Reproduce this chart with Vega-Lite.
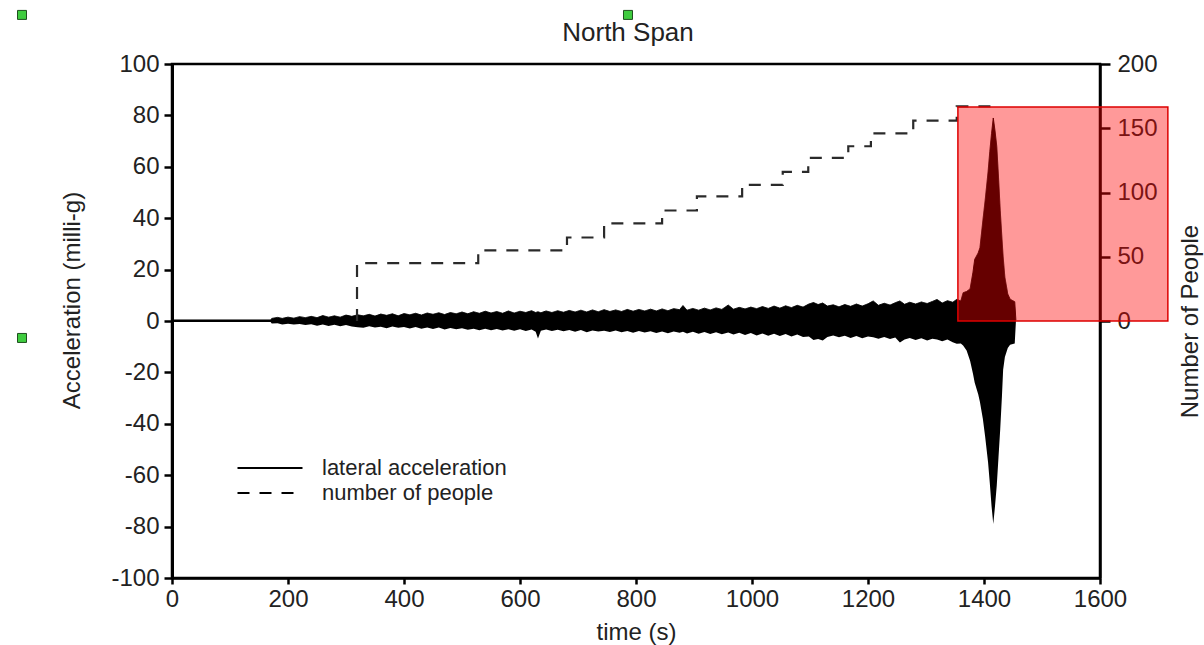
{
  "$schema": "https://vega.github.io/schema/vega-lite/v6.json",
  "width": 928,
  "height": 514,
  "autosize": {"type": "none"},
  "padding": {"left": 172, "top": 64, "right": 104, "bottom": 67},
  "background": "white",
  "title": {"text": "North Span", "fontSize": 26, "font": "Liberation Sans", "fontWeight": "normal", "color": "#222", "offset": 0, "dy": 38, "dx": -8},
  "config": {
    "font": "Liberation Sans",
    "view": {"stroke": "black", "strokeWidth": 2.5},
    "axis": {"grid": false, "labelFlush": false, "labelFontSize": 24, "titleFontSize": 24, "titleFontWeight": "normal", "labelColor": "#222", "titleColor": "#222", "domainColor": "black", "tickColor": "black", "domainWidth": 2.5, "tickWidth": 2.5, "labelExpr": "'' + datum.value"}
  },
  "datasets": {
    "acc": [
      {"t": 0, "up": 0.4, "lo": -0.4},
      {"t": 170, "up": 0.4, "lo": -0.4},
      {"t": 172, "up": 1.0, "lo": -1.0},
      {"t": 182, "up": 1.4, "lo": -0.9},
      {"t": 190, "up": 1.0, "lo": -1.4},
      {"t": 200, "up": 1.5, "lo": -1.1},
      {"t": 210, "up": 1.1, "lo": -1.4},
      {"t": 220, "up": 1.7, "lo": -1.2},
      {"t": 230, "up": 1.3, "lo": -1.6},
      {"t": 240, "up": 1.8, "lo": -1.3},
      {"t": 250, "up": 1.3, "lo": -1.8},
      {"t": 260, "up": 2.1, "lo": -1.4},
      {"t": 270, "up": 1.5, "lo": -1.9},
      {"t": 280, "up": 2.0, "lo": -1.5},
      {"t": 290, "up": 1.5, "lo": -2.0},
      {"t": 300, "up": 2.3, "lo": -1.6},
      {"t": 310, "up": 1.8, "lo": -2.1},
      {"t": 320, "up": 2.4, "lo": -2.4},
      {"t": 330, "up": 2.0, "lo": -2.6},
      {"t": 340, "up": 2.6, "lo": -2.0},
      {"t": 350, "up": 1.9, "lo": -2.5},
      {"t": 360, "up": 2.7, "lo": -2.2},
      {"t": 370, "up": 2.2, "lo": -2.8},
      {"t": 380, "up": 2.8, "lo": -2.1},
      {"t": 390, "up": 2.0, "lo": -2.6},
      {"t": 400, "up": 2.9, "lo": -2.3},
      {"t": 410, "up": 2.4, "lo": -2.9},
      {"t": 420, "up": 3.0, "lo": -2.3},
      {"t": 430, "up": 2.3, "lo": -3.0},
      {"t": 440, "up": 3.1, "lo": -2.5},
      {"t": 450, "up": 2.6, "lo": -3.1},
      {"t": 460, "up": 3.2, "lo": -2.5},
      {"t": 470, "up": 2.5, "lo": -3.3},
      {"t": 480, "up": 3.3, "lo": -2.7},
      {"t": 490, "up": 2.8, "lo": -3.2},
      {"t": 500, "up": 3.5, "lo": -2.8},
      {"t": 510, "up": 2.8, "lo": -3.4},
      {"t": 520, "up": 3.6, "lo": -3.0},
      {"t": 530, "up": 3.0, "lo": -3.6},
      {"t": 540, "up": 3.8, "lo": -3.0},
      {"t": 550, "up": 3.1, "lo": -3.6},
      {"t": 560, "up": 3.7, "lo": -3.1},
      {"t": 570, "up": 3.0, "lo": -3.7},
      {"t": 580, "up": 3.9, "lo": -3.2},
      {"t": 590, "up": 3.1, "lo": -3.8},
      {"t": 600, "up": 3.8, "lo": -3.2},
      {"t": 610, "up": 3.3, "lo": -3.9},
      {"t": 620, "up": 4.0, "lo": -3.3},
      {"t": 627, "up": 3.3, "lo": -4.2},
      {"t": 631, "up": 3.6, "lo": -6.8},
      {"t": 636, "up": 3.2, "lo": -3.8},
      {"t": 645, "up": 3.9, "lo": -3.3},
      {"t": 655, "up": 3.3, "lo": -3.9},
      {"t": 665, "up": 4.0, "lo": -3.4},
      {"t": 675, "up": 3.4, "lo": -4.0},
      {"t": 685, "up": 4.1, "lo": -3.5},
      {"t": 695, "up": 3.5, "lo": -4.2},
      {"t": 705, "up": 4.2, "lo": -3.5},
      {"t": 715, "up": 3.5, "lo": -4.4},
      {"t": 725, "up": 4.3, "lo": -3.7},
      {"t": 735, "up": 3.6, "lo": -4.1},
      {"t": 745, "up": 4.4, "lo": -3.8},
      {"t": 755, "up": 3.7, "lo": -4.3},
      {"t": 765, "up": 4.3, "lo": -3.7},
      {"t": 775, "up": 3.7, "lo": -4.4},
      {"t": 785, "up": 4.5, "lo": -3.9},
      {"t": 795, "up": 3.8, "lo": -4.6},
      {"t": 805, "up": 4.5, "lo": -3.9},
      {"t": 815, "up": 3.9, "lo": -4.5},
      {"t": 825, "up": 4.6, "lo": -4.0},
      {"t": 835, "up": 3.9, "lo": -4.7},
      {"t": 845, "up": 4.7, "lo": -4.1},
      {"t": 855, "up": 4.0, "lo": -4.8},
      {"t": 865, "up": 4.8, "lo": -4.1},
      {"t": 875, "up": 4.4, "lo": -4.6},
      {"t": 881, "up": 6.0, "lo": -4.2},
      {"t": 888, "up": 4.2, "lo": -4.9},
      {"t": 898, "up": 4.9, "lo": -4.2},
      {"t": 908, "up": 4.2, "lo": -5.0},
      {"t": 918, "up": 5.0, "lo": -4.3},
      {"t": 928, "up": 4.3, "lo": -5.1},
      {"t": 938, "up": 5.1, "lo": -4.4},
      {"t": 948, "up": 4.5, "lo": -5.2},
      {"t": 959, "up": 6.2, "lo": -4.5},
      {"t": 968, "up": 4.6, "lo": -5.3},
      {"t": 978, "up": 5.3, "lo": -4.6},
      {"t": 988, "up": 4.7, "lo": -5.4},
      {"t": 998, "up": 5.4, "lo": -4.7},
      {"t": 1008, "up": 4.8, "lo": -5.6},
      {"t": 1018, "up": 5.6, "lo": -4.9},
      {"t": 1028, "up": 4.9, "lo": -5.7},
      {"t": 1038, "up": 5.8, "lo": -5.0},
      {"t": 1048, "up": 5.0, "lo": -5.8},
      {"t": 1058, "up": 5.9, "lo": -5.1},
      {"t": 1068, "up": 5.2, "lo": -6.0},
      {"t": 1078, "up": 6.1, "lo": -5.3},
      {"t": 1088, "up": 5.4, "lo": -6.2},
      {"t": 1098, "up": 6.6, "lo": -6.0},
      {"t": 1106, "up": 7.2, "lo": -7.4},
      {"t": 1114, "up": 6.4, "lo": -7.0},
      {"t": 1122, "up": 7.0, "lo": -7.6},
      {"t": 1130, "up": 5.8, "lo": -6.2},
      {"t": 1140, "up": 6.3, "lo": -5.6},
      {"t": 1150, "up": 5.5, "lo": -6.3},
      {"t": 1160, "up": 6.4, "lo": -5.7},
      {"t": 1170, "up": 5.7, "lo": -6.6},
      {"t": 1180, "up": 6.6, "lo": -5.8},
      {"t": 1190, "up": 5.8, "lo": -6.7},
      {"t": 1200, "up": 6.7, "lo": -6.0},
      {"t": 1209, "up": 7.8, "lo": -6.3},
      {"t": 1218, "up": 6.1, "lo": -6.9},
      {"t": 1228, "up": 6.9, "lo": -6.2},
      {"t": 1238, "up": 6.2, "lo": -7.0},
      {"t": 1247, "up": 7.1, "lo": -6.4},
      {"t": 1255, "up": 7.8, "lo": -8.4},
      {"t": 1263, "up": 6.5, "lo": -7.2},
      {"t": 1272, "up": 7.3, "lo": -6.6},
      {"t": 1282, "up": 6.6, "lo": -7.4},
      {"t": 1292, "up": 7.4, "lo": -6.7},
      {"t": 1302, "up": 6.8, "lo": -7.6},
      {"t": 1311, "up": 7.6, "lo": -6.9},
      {"t": 1319, "up": 8.4, "lo": -7.2},
      {"t": 1328, "up": 7.0, "lo": -7.9},
      {"t": 1337, "up": 7.9, "lo": -7.2},
      {"t": 1346, "up": 7.3, "lo": -8.3},
      {"t": 1353, "up": 8.4, "lo": -8.9},
      {"t": 1360, "up": 7.8, "lo": -8.8},
      {"t": 1364, "up": 11, "lo": -9.5},
      {"t": 1370, "up": 11.5, "lo": -11.5},
      {"t": 1376, "up": 12.5, "lo": -15.5},
      {"t": 1381, "up": 19, "lo": -20.5},
      {"t": 1384, "up": 24, "lo": -24},
      {"t": 1390, "up": 26.5, "lo": -28.5},
      {"t": 1393, "up": 28.5, "lo": -31.5},
      {"t": 1398, "up": 39, "lo": -38},
      {"t": 1402, "up": 47, "lo": -45},
      {"t": 1407, "up": 58, "lo": -55},
      {"t": 1410, "up": 66, "lo": -63},
      {"t": 1413, "up": 73, "lo": -72},
      {"t": 1416, "up": 79, "lo": -79},
      {"t": 1419, "up": 74, "lo": -72},
      {"t": 1422, "up": 68, "lo": -64},
      {"t": 1425, "up": 56, "lo": -53},
      {"t": 1428, "up": 43, "lo": -42},
      {"t": 1431, "up": 32, "lo": -29},
      {"t": 1433, "up": 25, "lo": -19},
      {"t": 1436, "up": 17, "lo": -14},
      {"t": 1441, "up": 10.5, "lo": -10.5},
      {"t": 1445, "up": 8.5, "lo": -9.2},
      {"t": 1453, "up": 7.5, "lo": -8.8},
      {"t": 1455, "up": 0.3, "lo": -0.3}
    ],
    "people": [
      {"t": 319, "n": 0},
      {"t": 319, "n": 45},
      {"t": 528, "n": 55},
      {"t": 681, "n": 65},
      {"t": 745, "n": 76},
      {"t": 845, "n": 86},
      {"t": 905, "n": 97},
      {"t": 983, "n": 106},
      {"t": 1053, "n": 116},
      {"t": 1097, "n": 127},
      {"t": 1166, "n": 136},
      {"t": 1205, "n": 146},
      {"t": 1278, "n": 156},
      {"t": 1353, "n": 167},
      {"t": 1420, "n": 167}
    ],
    "handles": [
      {"t": -258.6, "a": 119.1},
      {"t": 786.2, "a": 119.1},
      {"t": -258.6, "a": -6.6}
    ],
    "box": [
      {"x0": 1355, "x1": 1717, "n0": 0, "n1": 166.5}
    ]
  },
  "layer": [
    {
      "layer": [
        {
          "data": {"name": "acc"},
          "mark": {"type": "area", "color": "black"},
          "encoding": {
            "x": {"field": "t", "type": "quantitative", "scale": {"domain": [0, 1600], "nice": false, "zero": false}, "axis": {"title": "time (s)", "values": [0, 200, 400, 600, 800, 1000, 1200, 1400, 1600], "tickSize": 6, "labelPadding": 3, "titlePadding": 9}},
            "y": {"field": "up", "type": "quantitative", "scale": {"domain": [-100, 100], "nice": false, "zero": false}, "axis": {"title": "Acceleration (milli-g)", "values": [-100, -80, -60, -40, -20, 0, 20, 40, 60, 80, 100], "tickSize": 8, "labelPadding": 5, "domainWidth": 3, "titleAngle": 270, "titleX": -93, "titleY": 236, "titleAlign": "center", "titleBaseline": "alphabetic"}},
            "y2": {"field": "lo"}
          }
        },
        {
          "data": {"name": "acc"},
          "mark": {"type": "line", "color": "black", "strokeWidth": 1},
          "encoding": {
            "x": {"field": "t", "type": "quantitative", "scale": {"domain": [0, 1600], "nice": false, "zero": false}, "axis": {"title": "time (s)", "values": [0, 200, 400, 600, 800, 1000, 1200, 1400, 1600], "tickSize": 6, "labelPadding": 3, "titlePadding": 9}},
            "y": {"field": "up", "type": "quantitative", "scale": {"domain": [-100, 100], "nice": false, "zero": false}, "axis": {"title": "Acceleration (milli-g)", "values": [-100, -80, -60, -40, -20, 0, 20, 40, 60, 80, 100], "tickSize": 8, "labelPadding": 5, "domainWidth": 3, "titleAngle": 270, "titleX": -93, "titleY": 236, "titleAlign": "center", "titleBaseline": "alphabetic"}},
            "strokeDash": {"datum": "lateral acceleration", "scale": {"domain": ["lateral acceleration", "number of people"], "range": [[1, 0], [12, 10]]}, "legend": {"title": null, "orient": "none", "legendX": 87, "legendY": 393, "symbolType": "M-5,0H5", "symbolSize": 169, "symbolStrokeWidth": 2, "symbolStrokeColor": "black", "labelFontSize": 22, "labelOffset": 41, "labelLimit": 400, "labelColor": "#222", "rowPadding": 3, "padding": 0}}
          }
        },
        {
          "data": {"name": "handles"},
          "mark": {"type": "point", "shape": "square", "filled": true, "size": 81, "fill": "#3fcc3f", "stroke": "#1f4f1f", "strokeWidth": 1, "opacity": 1},
          "encoding": {
            "x": {"field": "t", "type": "quantitative", "scale": {"domain": [0, 1600], "nice": false, "zero": false}, "axis": {"title": "time (s)", "values": [0, 200, 400, 600, 800, 1000, 1200, 1400, 1600], "tickSize": 6, "labelPadding": 3, "titlePadding": 9}},
            "y": {"field": "a", "type": "quantitative", "scale": {"domain": [-100, 100], "nice": false, "zero": false}, "axis": {"title": "Acceleration (milli-g)", "values": [-100, -80, -60, -40, -20, 0, 20, 40, 60, 80, 100], "tickSize": 8, "labelPadding": 5, "domainWidth": 3, "titleAngle": 270, "titleX": -93, "titleY": 236, "titleAlign": "center", "titleBaseline": "alphabetic"}}
          }
        }
      ]
    },
    {
      "layer": [
        {
          "data": {"name": "people"},
          "mark": {"type": "line", "interpolate": "step-after", "color": "#2a2a2a", "strokeWidth": 2.2},
          "encoding": {
            "x": {"field": "t", "type": "quantitative", "scale": {"domain": [0, 1600], "nice": false, "zero": false}, "axis": {"title": "time (s)", "values": [0, 200, 400, 600, 800, 1000, 1200, 1400, 1600], "tickSize": 6, "labelPadding": 3, "titlePadding": 9}},
            "y": {"field": "n", "type": "quantitative", "scale": {"domain": [-200, 200], "nice": false, "zero": false}, "axis": {"orient": "right", "title": "Number of People", "values": [0, 50, 100, 150, 200], "tickSize": 10, "labelPadding": 7, "titleAngle": 270, "titleX": 97, "titleY": 257, "titleAlign": "center", "titleBaseline": "alphabetic"}},
            "strokeDash": {"datum": "number of people", "scale": {"domain": ["lateral acceleration", "number of people"], "range": [[1, 0], [12, 10]]}, "legend": {"title": null, "orient": "none", "legendX": 87, "legendY": 393, "symbolType": "M-5,0H5", "symbolSize": 169, "symbolStrokeWidth": 2, "symbolStrokeColor": "black", "labelFontSize": 22, "labelOffset": 41, "labelLimit": 400, "labelColor": "#222", "rowPadding": 3, "padding": 0}}
          }
        },
        {
          "data": {"name": "box"},
          "mark": {"type": "rect", "fill": "#ff0000", "fillOpacity": 0.4, "stroke": "#dd0000", "strokeWidth": 1.5},
          "encoding": {
            "x": {"field": "x0", "type": "quantitative", "scale": {"domain": [0, 1600], "nice": false, "zero": false}, "axis": {"title": "time (s)", "values": [0, 200, 400, 600, 800, 1000, 1200, 1400, 1600], "tickSize": 6, "labelPadding": 3, "titlePadding": 9}},
            "x2": {"field": "x1"},
            "y": {"field": "n0", "type": "quantitative", "scale": {"domain": [-200, 200], "nice": false, "zero": false}, "axis": {"orient": "right", "title": "Number of People", "values": [0, 50, 100, 150, 200], "tickSize": 10, "labelPadding": 7, "titleAngle": 270, "titleX": 97, "titleY": 257, "titleAlign": "center", "titleBaseline": "alphabetic"}},
            "y2": {"field": "n1"}
          }
        }
      ]
    }
  ],
  "resolve": {"scale": {"y": "independent"}}
}
